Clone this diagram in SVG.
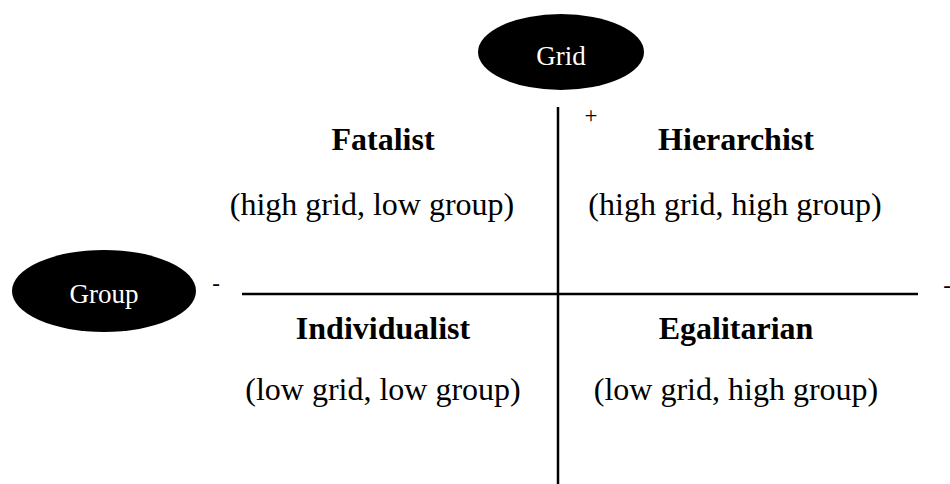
<svg xmlns="http://www.w3.org/2000/svg" width="950" height="484" viewBox="0 0 950 484">
<style>
.bg{fill:#ffffff}
.oval{fill:#000000}
.olab{font-family:"Liberation Serif",serif;font-size:27px;fill:#ffffff;text-anchor:middle}
.title{font-family:"Liberation Serif",serif;font-size:32px;font-weight:bold;fill:#000000;text-anchor:middle}
.sub{font-family:"Liberation Serif",serif;font-size:32px;fill:#000000;text-anchor:middle}
.sign{font-family:"Liberation Serif",serif;font-size:23px;fill:#000000;text-anchor:middle}
.axis{stroke:#000000;stroke-width:2.5;fill:none}
</style>
<rect class="bg" x="0" y="0" width="950" height="484"/>
<g id="connectors">
<line class="axis" x1="558" y1="107" x2="558" y2="484"/>
<line class="axis" x1="242" y1="294" x2="918" y2="294"/>
</g>
<g id="grid">
<ellipse class="oval" cx="561" cy="52" rx="83" ry="38"/>
<text class="olab" x="561" y="65">Grid</text>
</g>
<g id="group">
<ellipse class="oval" cx="104" cy="291" rx="92" ry="41"/>
<text class="olab" x="104" y="303">Group</text>
</g>
<g id="signs">
<text class="sign" x="591" y="123">+</text>
<text class="sign" x="216" y="291">-</text>
<text class="sign" x="947" y="293">-</text>
</g>
<g id="fatalist">
<text class="title" x="383" y="150">Fatalist</text>
<text class="sub" x="372" y="215">(high grid, low group)</text>
</g>
<g id="hierarchist">
<text class="title" x="736" y="150">Hierarchist</text>
<text class="sub" x="735" y="215">(high grid, high group)</text>
</g>
<g id="individualist">
<text class="title" x="383" y="339">Individualist</text>
<text class="sub" x="383" y="400">(low grid, low group)</text>
</g>
<g id="egalitarian">
<text class="title" x="736" y="339">Egalitarian</text>
<text class="sub" x="736" y="400">(low grid, high group)</text>
</g>
</svg>
